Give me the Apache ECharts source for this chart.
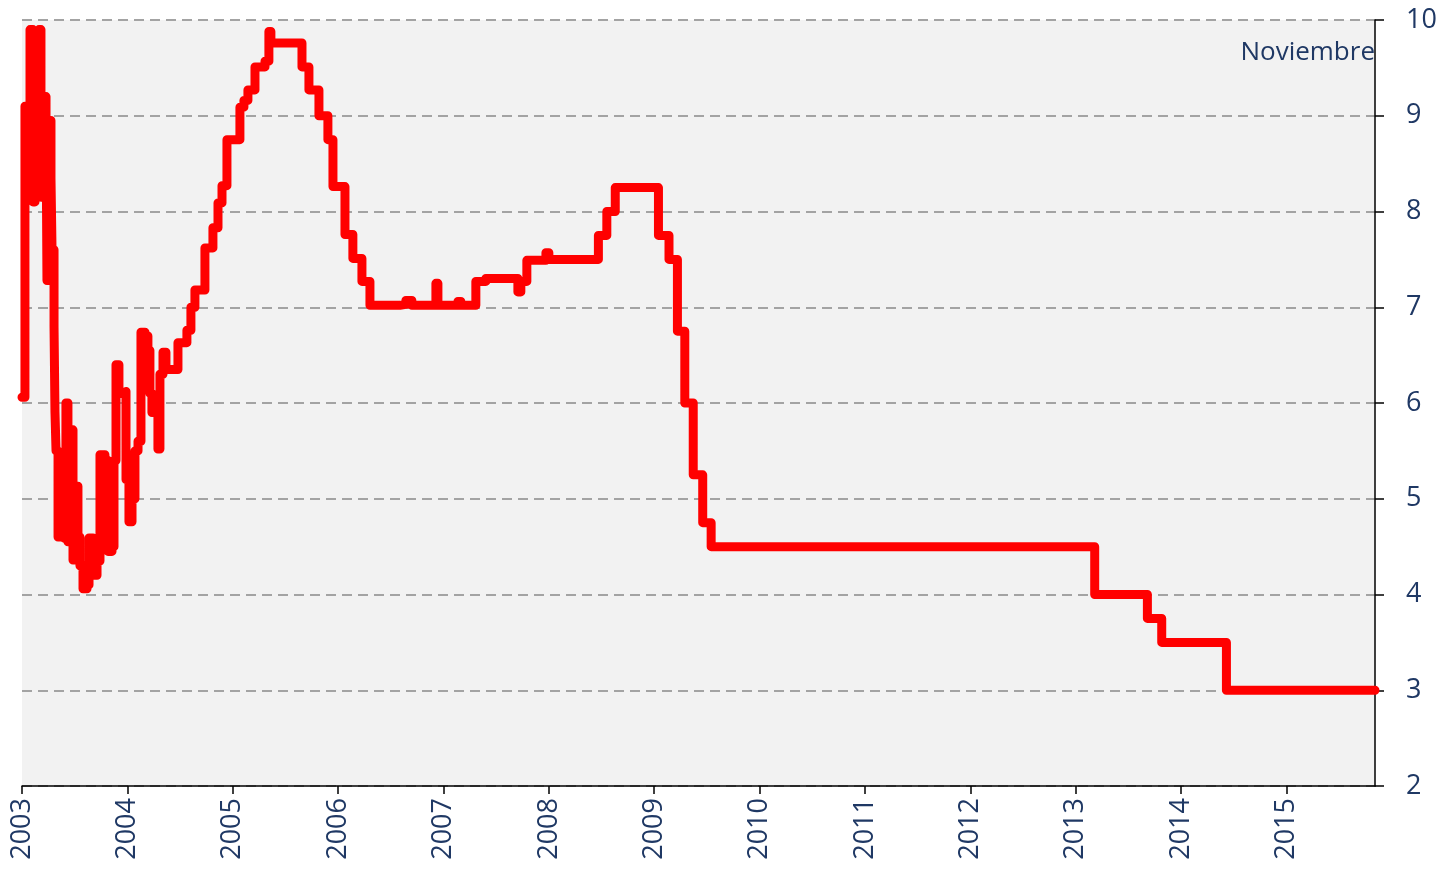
<!DOCTYPE html>
<html>
<head>
<meta charset="utf-8">
<title>Tasa de interés</title>
<script src="https://cdn.jsdelivr.net/npm/echarts@6/dist/echarts.min.js"></script>
<style>
  html, body { margin: 0; padding: 0; background: #ffffff; }
  #chart { width: 1447px; height: 874px; }
</style>
</head>
<body>
<div id="chart"></div>
<script>
// fechas en años decimales, tasas en %
// 2003-2007: tasa de fondeo (muy ruidosa al principio)
var fechasFondeo = [
  2003.000, 2003.028, 2003.057, 2003.076, 2003.104, 2003.123, 2003.142, 2003.161, 2003.180, 2003.209,
  2003.228, 2003.237, 2003.256, 2003.275, 2003.285, 2003.304, 2003.313, 2003.323, 2003.342, 2003.380,
  2003.417, 2003.436, 2003.465, 2003.484, 2003.512, 2003.531, 2003.550, 2003.579, 2003.617, 2003.636,
  2003.674, 2003.712, 2003.740, 2003.787, 2003.816, 2003.854, 2003.873, 2003.892, 2003.920, 2003.958,
  2003.987, 2004.015, 2004.044, 2004.072, 2004.101, 2004.129, 2004.167, 2004.195, 2004.214, 2004.233,
  2004.262, 2004.290, 2004.309, 2004.338, 2004.366, 2004.480, 2004.565, 2004.603, 2004.641, 2004.736,
  2004.812, 2004.860, 2004.898, 2004.945, 2005.068, 2005.106, 2005.144, 2005.211, 2005.306, 2005.343,
  2005.362, 2005.657, 2005.723, 2005.818, 2005.903, 2005.951, 2006.065, 2006.140, 2006.226, 2006.302,
  2006.586, 2006.643, 2006.700, 2006.928, 2006.947, 2007.137, 2007.165, 2007.307, 2007.402, 2007.706,
  2007.734, 2007.791, 2007.972
];
var tasasFondeo = [
  6.06, 9.10, 8.60, 9.90, 8.10, 9.85, 8.30, 9.90, 8.15, 9.20,
  8.90, 7.28, 8.95, 8.35, 7.60, 6.80, 5.90, 5.50, 4.60, 4.58,
  6.00, 4.55, 5.72, 4.36, 5.13, 4.60, 4.30, 4.06, 4.10, 4.59,
  4.20, 4.35, 5.46, 5.40, 4.45, 4.50, 5.40, 6.40, 6.10, 6.12,
  5.20, 4.76, 5.00, 5.50, 5.60, 6.74, 6.70, 6.55, 6.10, 5.90,
  6.00, 5.52, 6.30, 6.53, 6.35, 6.63, 6.76, 7.00, 7.18, 7.62,
  7.83, 8.09, 8.27, 8.75, 9.09, 9.16, 9.27, 9.51, 9.57, 9.88,
  9.76, 9.51, 9.27, 9.00, 8.75, 8.26, 7.76, 7.51, 7.27, 7.02,
  7.03, 7.07, 7.02, 7.25, 7.02, 7.06, 7.02, 7.27, 7.30, 7.16,
  7.27, 7.49, 7.57
];
// 2008-2015: tasa objetivo
var fechasObjetivo = [
  2008.000, 2008.470, 2008.550, 2008.630, 2009.040, 2009.140, 2009.220, 2009.290, 2009.370, 2009.460,
  2009.540, 2013.180, 2013.680, 2013.816, 2014.430, 2015.840
];
var tasasObjetivo = [
  7.50, 7.75, 8.00, 8.25, 7.75, 7.50, 6.75, 6.00, 5.25, 4.75,
  4.50, 4.00, 3.75, 3.50, 3.00, 3.00
];
var ticksAnio = [2003, 2004, 2005, 2006, 2007, 2008, 2009, 2010, 2011, 2012, 2013, 2014, 2015];
var ticksTasa = [2, 3, 4, 5, 6, 7, 8, 9, 10];

var fechas = fechasFondeo.concat(fechasObjetivo);
var tasas = tasasFondeo.concat(tasasObjetivo);
var datos = fechas.map(function (f, i) { return [f, tasas[i]]; });

var azul = '#1f3864';
var fuente = '"Open Sans", "Liberation Sans", sans-serif';
var tasaMax = ticksTasa[ticksTasa.length - 1];

var myChart = echarts.init(document.getElementById('chart'));
var option = {
  animation: false,
  backgroundColor: '#ffffff',
  grid: {
    left: 22,
    right: 72,
    top: 20,
    bottom: 88,
    show: true,
    backgroundColor: '#f2f2f2',
    borderWidth: 0
  },
  graphic: [{
    type: 'text',
    right: 72,
    top: 40,
    style: { text: 'Noviembre', fill: azul, font: '26px ' + fuente, textAlign: 'right' }
  }],
  xAxis: {
    type: 'value',
    min: ticksAnio[0],
    max: 2015.84,
    interval: 1,
    axisLine: { show: true, lineStyle: { color: '#000000', width: 1.5 } },
    axisTick: { show: true, length: 8, lineStyle: { color: '#000000', width: 1.5 } },
    axisLabel: {
      rotate: 90,
      margin: 12,
      color: azul,
      fontSize: 27,
      fontFamily: fuente,
      showMaxLabel: false,
      formatter: function (v) { return ticksAnio.indexOf(v) >= 0 ? String(v) : ''; }
    },
    splitLine: { show: false }
  },
  yAxis: {
    type: 'value',
    position: 'right',
    min: ticksTasa[0],
    max: tasaMax,
    interval: 1,
    axisLine: { show: true, lineStyle: { color: '#000000', width: 1.5 } },
    axisTick: { show: true, length: 9, lineStyle: { color: '#000000', width: 1.5 } },
    axisLabel: {
      margin: 31,
      color: azul,
      fontSize: 27,
      fontFamily: fuente,
      // la etiqueta de arriba se dibuja aparte (ECharts la empuja a la izquierda)
      formatter: function (v) { return v === tasaMax ? '' : String(v); }
    },
    splitLine: { show: true, lineStyle: { color: '#a3a3a3', width: 2, type: [10, 6] } }
  },
  series: [{
    type: 'line',
    step: 'end',
    data: datos,
    showSymbol: false,
    lineStyle: { color: '#ff0000', width: 9, join: 'round', cap: 'round' }
  }]
};
myChart.setOption(option);

// etiqueta "10" colocada con la escala del eje
var pTop = myChart.convertToPixel({ gridIndex: 0 }, [2015.84, tasaMax]);
myChart.setOption({
  graphic: [{
    type: 'text',
    right: 72,
    top: 40,
    style: { text: 'Noviembre', fill: azul, font: '26px ' + fuente, textAlign: 'right' }
  }, {
    type: 'text',
    x: pTop[0] + 31,
    y: pTop[1],
    style: { text: String(tasaMax), fill: azul, font: '27px ' + fuente, textAlign: 'left', textVerticalAlign: 'middle' }
  }]
});
</script>
</body>
</html>
